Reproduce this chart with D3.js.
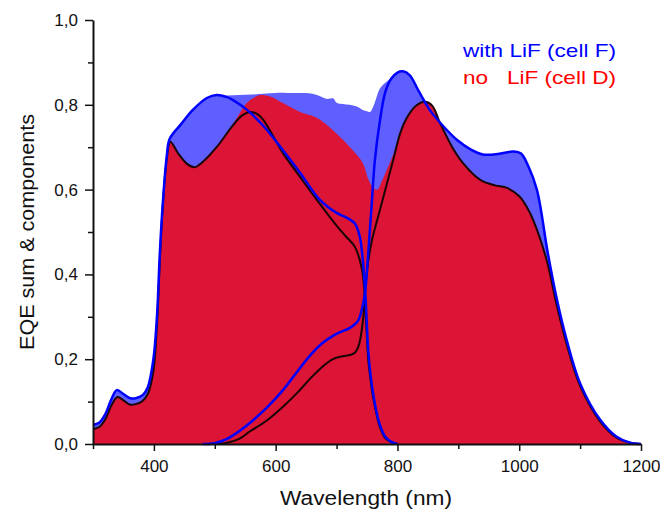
<!DOCTYPE html>
<html>
<head>
<meta charset="utf-8">
<script src="https://cdn.jsdelivr.net/npm/d3@7"></script>
<style>
  body { margin: 0; background: #fff; }
  svg { display: block; font-family: "Liberation Sans", Arial, sans-serif; }
</style>
</head>
<body>
<svg id="chart" width="660" height="512"></svg>
<script>
// EQE of the two sub-cells
// with LiF (cell F): top-cell component
const liFTopWl  = [300, 310, 320, 330, 339, 350, 361, 370, 382, 390, 399, 405, 410, 415, 421, 426, 445, 464, 487, 503, 520, 530, 553, 580, 612, 640, 673, 700, 715, 730, 738, 742, 747, 752, 756, 760, 765, 770, 780, 790, 800];
const liFTopEqe = [0.045, 0.05, 0.07, 0.105, 0.127, 0.118, 0.108, 0.108, 0.116, 0.134, 0.198, 0.30, 0.457, 0.575, 0.677, 0.72, 0.755, 0.788, 0.816, 0.823, 0.818, 0.811, 0.788, 0.75, 0.693, 0.64, 0.575, 0.545, 0.535, 0.52, 0.49, 0.45, 0.36, 0.22, 0.16, 0.12, 0.08, 0.05, 0.017, 0.005, 0];
// with LiF: bottom-cell component
const liFBotWl  = [480, 500, 520, 540, 558, 585, 612, 635, 656, 675, 694, 705, 722, 735, 742, 747, 752, 757, 763, 771, 780, 790, 800, 809, 820, 835, 853, 875, 898, 920, 940, 965, 990, 1003, 1015, 1029, 1047, 1062, 1078, 1100, 1133, 1160, 1182, 1200];
const liFBotEqe = [0, 0.002, 0.012, 0.03, 0.05, 0.085, 0.127, 0.17, 0.208, 0.236, 0.255, 0.263, 0.274, 0.29, 0.32, 0.36, 0.45, 0.55, 0.67, 0.76, 0.83, 0.862, 0.876, 0.879, 0.87, 0.832, 0.788, 0.75, 0.717, 0.695, 0.683, 0.684, 0.69, 0.685, 0.655, 0.60, 0.45, 0.34, 0.245, 0.143, 0.057, 0.017, 0.003, 0];
// with LiF: measured sum
const liFSumWl  = [300, 310, 320, 330, 339, 350, 361, 370, 382, 390, 399, 405, 410, 415, 421, 426, 445, 464, 487, 503, 520, 540, 560, 580, 600, 620, 640, 655, 665, 673, 684, 690, 695, 700, 710, 722, 735, 743, 750, 755, 760, 765, 771, 780, 790, 800, 809, 820, 835, 853, 875, 898, 920, 940, 965, 990, 1003, 1015, 1029, 1047, 1062, 1078, 1100, 1133, 1160, 1182, 1200];
const liFSumEqe = [0.045, 0.05, 0.07, 0.105, 0.127, 0.118, 0.108, 0.108, 0.116, 0.134, 0.198, 0.30, 0.457, 0.575, 0.677, 0.72, 0.755, 0.788, 0.816, 0.823, 0.822, 0.823, 0.824, 0.826, 0.828, 0.828, 0.828, 0.827, 0.824, 0.82, 0.814, 0.815, 0.815, 0.805, 0.802, 0.80, 0.795, 0.788, 0.785, 0.783, 0.795, 0.815, 0.838, 0.852, 0.864, 0.876, 0.879, 0.87, 0.832, 0.788, 0.75, 0.717, 0.695, 0.683, 0.684, 0.69, 0.685, 0.655, 0.60, 0.45, 0.34, 0.245, 0.143, 0.057, 0.017, 0.003, 0];

// no LiF (cell D): top-cell component
const noTopWl  = [300, 310, 320, 330, 340, 350, 360, 370, 380, 390, 399, 405, 410, 415, 421, 427, 440, 455, 467, 480, 503, 530, 545, 558, 570, 580, 612, 640, 668, 700, 715, 730, 742, 748, 752, 756, 760, 765, 770, 780, 790, 800];
const noTopEqe = [0.035, 0.04, 0.058, 0.09, 0.111, 0.103, 0.093, 0.094, 0.1, 0.118, 0.17, 0.28, 0.44, 0.57, 0.67, 0.713, 0.685, 0.66, 0.653, 0.665, 0.70, 0.752, 0.775, 0.783, 0.778, 0.764, 0.686, 0.63, 0.575, 0.515, 0.49, 0.465, 0.41, 0.3, 0.2, 0.15, 0.11, 0.075, 0.045, 0.014, 0.004, 0];
// no LiF: bottom-cell component
const noBotWl  = [505, 520, 540, 558, 585, 612, 635, 656, 675, 694, 710, 722, 730, 737, 744, 748, 752, 758, 768, 782, 793, 805, 815, 830, 845, 857, 870, 890, 908, 936, 960, 980, 1001, 1012, 1023, 1045, 1062, 1078, 1100, 1133, 1160, 1182, 1200];
const noBotEqe = [0, 0.003, 0.012, 0.03, 0.055, 0.088, 0.12, 0.153, 0.18, 0.2, 0.207, 0.21, 0.215, 0.235, 0.3, 0.38, 0.43, 0.48, 0.535, 0.61, 0.67, 0.735, 0.768, 0.797, 0.807, 0.798, 0.757, 0.7, 0.662, 0.623, 0.61, 0.604, 0.583, 0.56, 0.528, 0.434, 0.325, 0.235, 0.137, 0.053, 0.015, 0.003, 0];
// no LiF: measured sum
const noSumWl  = [300, 310, 320, 330, 340, 350, 360, 370, 380, 390, 399, 405, 410, 415, 421, 427, 440, 455, 467, 480, 503, 520, 530, 540, 550, 562, 575, 590, 612, 640, 668, 694, 722, 743, 752, 760, 767, 775, 785, 795, 805, 815, 830, 845, 857, 870, 890, 908, 936, 960, 980, 1001, 1012, 1023, 1045, 1062, 1078, 1100, 1133, 1160, 1182, 1200];
const noSumEqe = [0.035, 0.04, 0.058, 0.09, 0.111, 0.103, 0.093, 0.094, 0.1, 0.118, 0.17, 0.28, 0.44, 0.57, 0.67, 0.713, 0.685, 0.66, 0.653, 0.665, 0.70, 0.735, 0.755, 0.778, 0.8, 0.815, 0.823, 0.82, 0.804, 0.783, 0.769, 0.74, 0.70, 0.663, 0.625, 0.605, 0.60, 0.622, 0.655, 0.69, 0.735, 0.768, 0.797, 0.807, 0.798, 0.757, 0.7, 0.662, 0.623, 0.61, 0.604, 0.583, 0.56, 0.528, 0.434, 0.325, 0.235, 0.137, 0.053, 0.015, 0.003, 0];

const xMajor = [400, 600, 800, 1000, 1200];
const xMinor = [300, 500, 700, 900, 1100];
const yMajor = [0, 0.2, 0.4, 0.6, 0.8, 1.0];
const yMinor = [0.1, 0.3, 0.5, 0.7, 0.9];

var zip = function(wl, v) {
    return wl.map(function(w, i) { return [w, v[i]]; });
};

var svg = d3.select('#chart');

var x = d3.scaleLinear().domain([300, 1200]).range([93, 641]);
var y = d3.scaleLinear().domain([0, 1]).range([444, 20]);

var curve = d3.curveCatmullRom.alpha(0.5);

var area = d3.area()
    .x(function(d) { return x(d[0]); })
    .y0(y(0))
    .y1(function(d) { return y(d[1]); })
    .curve(curve);

var line = d3.line()
    .x(function(d) { return x(d[0]); })
    .y(function(d) { return y(d[1]); })
    .curve(curve);

// filled sums: with LiF behind, no LiF in front
svg.append('path')
    .datum(zip(liFSumWl, liFSumEqe))
    .attr('d', area)
    .attr('fill', '#5f5fff');

svg.append('path')
    .datum(zip(noSumWl, noSumEqe))
    .attr('d', area)
    .attr('fill', '#dc1435');

// component curves
[[noTopWl, noTopEqe], [noBotWl, noBotEqe]].forEach(function(s) {
    svg.append('path')
        .datum(zip(s[0], s[1]))
        .attr('d', line)
        .attr('fill', 'none')
        .attr('stroke', '#1a0505')
        .attr('stroke-width', 2);
});

[[liFTopWl, liFTopEqe], [liFBotWl, liFBotEqe]].forEach(function(s) {
    svg.append('path')
        .datum(zip(s[0], s[1]))
        .attr('d', line)
        .attr('fill', 'none')
        .attr('stroke', '#0000ff')
        .attr('stroke-width', 2.5);
});

// axes
var comma = function(d) { return d3.format('.1f')(d).replace('.', ','); };

var gy = svg.append('g').attr('transform', 'translate(93,0)');
gy.call(d3.axisLeft(y).tickValues(yMajor).tickSize(8).tickSizeOuter(0).tickPadding(7).tickFormat(comma));
gy.append('g').call(d3.axisLeft(y).tickValues(yMinor).tickSize(5).tickFormat(''))
    .select('.domain').remove();

var gx = svg.append('g').attr('transform', 'translate(0,444)');
gx.call(d3.axisBottom(x).tickValues(xMajor).tickSize(7).tickSizeOuter(0).tickPadding(9).tickFormat(d3.format('d')));
gx.append('g').call(d3.axisBottom(x).tickValues(xMinor).tickSize(5).tickFormat(''))
    .select('.domain').remove();

svg.selectAll('.domain').attr('stroke', '#111').attr('stroke-width', 2);
svg.selectAll('.tick line').attr('stroke', '#111').attr('stroke-width', 1.5);
svg.selectAll('.tick text')
    .attr('fill', '#111')
    .style('font-family', '"Liberation Sans", Arial, sans-serif')
    .style('font-size', '17px');

// titles
svg.append('text')
    .attr('x', 366).attr('y', 505)
    .attr('text-anchor', 'middle')
    .attr('textLength', 172).attr('lengthAdjust', 'spacingAndGlyphs')
    .style('font-size', '20px')
    .attr('fill', '#111')
    .text('Wavelength (nm)');

svg.append('text')
    .attr('transform', 'translate(34,232) rotate(-90)')
    .attr('text-anchor', 'middle')
    .attr('textLength', 236).attr('lengthAdjust', 'spacingAndGlyphs')
    .style('font-size', '21px')
    .attr('fill', '#111')
    .text('EQE sum & components');

// legend
svg.append('text')
    .attr('x', 463).attr('y', 57)
    .attr('textLength', 153).attr('lengthAdjust', 'spacingAndGlyphs')
    .style('font-size', '19px')
    .attr('fill', '#0000ff')
    .text('with LiF (cell F)');

svg.append('text')
    .attr('x', 463).attr('y', 84)
    .attr('textLength', 153).attr('lengthAdjust', 'spacingAndGlyphs')
    .style('font-size', '19px')
    .style('white-space', 'pre')
    .attr('fill', '#ff0000')
    .text('no   LiF (cell D)');
</script>
</body>
</html>
